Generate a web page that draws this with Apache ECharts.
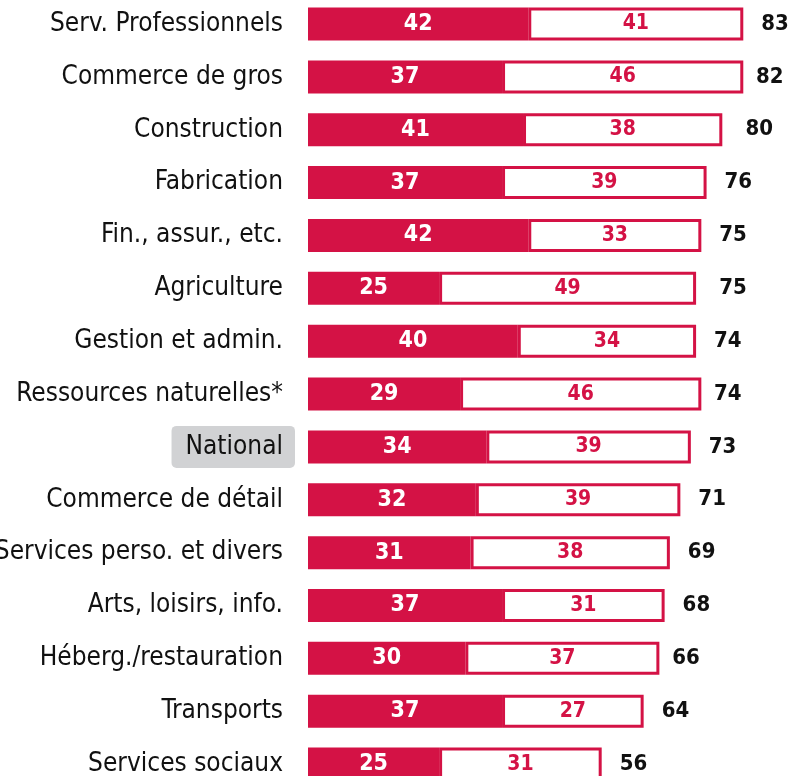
<!DOCTYPE html>
<html>
<head>
<meta charset="utf-8">
<script src="https://cdn.jsdelivr.net/npm/echarts@6/dist/echarts.min.js"></script>
<style>
  html, body { margin: 0; padding: 0; background: #fff; overflow: hidden; }
  /* le graphique dépasse un peu en haut et en bas de la fenêtre */
  #chart { position: absolute; left: 0; top: -3px; width: 794px; height: 800px; }
</style>
</head>
<body>
<div id="chart"></div>
<script>
// secteurs, du haut vers le bas
const categories = [
  'Serv. Professionnels', 'Commerce de gros', 'Construction', 'Fabrication',
  'Fin., assur., etc.', 'Agriculture', 'Gestion et admin.', 'Ressources naturelles*',
  'National', 'Commerce de détail', 'Services perso. et divers', 'Arts, loisirs, info.',
  'Héberg./restauration', 'Transports', 'Services sociaux'
]
const part1 = [42, 37, 41, 37, 42, 25, 40, 29, 34, 32, 31, 37, 30, 37, 25]
const part2 = [41, 46, 38, 39, 33, 49, 34, 46, 39, 39, 38, 31, 37, 27, 31]
const totals = [83, 82, 80, 76, 75, 75, 74, 74, 73, 71, 69, 68, 66, 64, 56]

const RED = '#D41245'
const FONT = '"DejaVu Sans Condensed", "DejaVu Sans", sans-serif'

const chart = echarts.init(document.getElementById('chart'))
const option = {
  animation: false,
  grid: { left: 308, right: 14, top: 0.6, bottom: 6.5, outerBoundsMode: 'none' },
  xAxis: {
    type: 'value', min: 0, max: 90,
    show: false
  },
  yAxis: {
    type: 'category',
    data: categories,
    inverse: true,
    axisLine: { show: false },
    axisTick: { show: false },
    axisLabel: {
      margin: 13,
      formatter: (v) => v === 'National' ? '{nat|' + v + '}' : '{cat|' + v + '}',
      rich: {
        cat: {
          fontFamily: FONT, fontSize: 26, color: '#111',
          padding: [8, 12, 8, 14]
        },
        nat: {
          fontFamily: FONT, fontSize: 26, color: '#111',
          backgroundColor: '#D1D2D4', borderRadius: 5,
          padding: [8, 12, 8, 14]
        }
      }
    }
  },
  series: [
    {
      type: 'bar', stack: 'tot', data: part1,
      barWidth: 33,
      itemStyle: { color: RED },
      label: {
        show: true, position: 'inside', color: '#fff',
        fontFamily: FONT, fontWeight: 'bold', fontSize: 23
      }
    },
    {
      type: 'bar', stack: 'tot', data: part2,
      barWidth: 33,
      itemStyle: { color: '#fff', borderColor: RED, borderWidth: 3 },
      label: {
        show: true, position: 'inside', color: RED,
        fontFamily: FONT, fontWeight: 'bold', fontSize: 21
      }
    },
    {
      // totaux : barre invisible qui porte l'étiquette
      type: 'bar', data: totals, barGap: '-100%',
      barWidth: 33, silent: true,
      itemStyle: { color: 'rgba(0,0,0,0)' },
      label: {
        show: true, position: 'right', distance: 18, color: '#111',
        fontFamily: FONT, fontWeight: 'bold', fontSize: 22
      },
      z: 1
    }
  ]
}
chart.setOption(option)
</script>
</body>
</html>
